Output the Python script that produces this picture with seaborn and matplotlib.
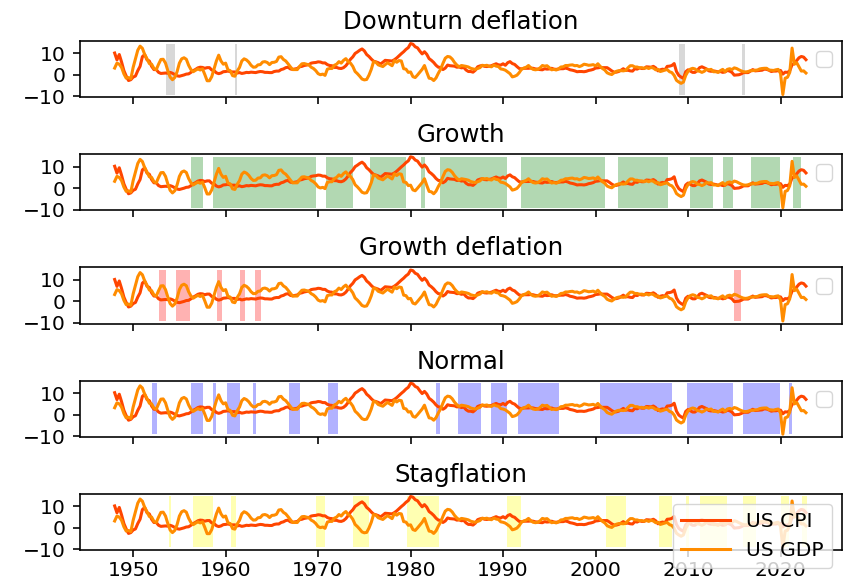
import numpy as np
import pandas as pd
import matplotlib
matplotlib.use("Agg")
import matplotlib.pyplot as plt
import seaborn as sns

# ---------------- data ----------------
start_year = 1948.0  # first quarter
cpi = [
    10.2, 7.0, 9.5, 6.0,   2.0, -0.5, -2.6, -2.2,   -1.0, -0.5, 2.0, 4.0,
    8.5, 9.5, 7.0, 6.5,    4.0, 2.5, 2.5, 1.2,      0.7, 0.8, 0.9, 0.8,
    1.2, 0.8, 0.2, -0.4,   -0.6, -0.3, 0.0, 0.4,    0.5, 1.2, 2.0, 2.6,
    3.3, 3.6, 3.5, 3.1,    3.4, 3.4, 2.3, 2.0,      1.0, 0.6, 0.9, 1.5,
    1.6, 1.8, 1.5, 1.4,    1.4, 0.9, 1.1, 0.7,      0.9, 1.2, 1.1, 1.3,
    1.2, 1.1, 1.4, 1.6,    1.5, 1.2, 1.2, 1.1,      1.1, 1.6, 1.8, 1.8,
    2.5, 2.8, 3.4, 3.6,    2.8, 2.6, 2.8, 3.0,      3.8, 4.0, 4.4, 4.6,
    4.8, 5.5, 5.7, 5.8,    6.1, 6.0, 5.6, 5.6,      4.8, 4.4, 4.3, 3.5,
    3.5, 3.1, 3.0, 3.4,    4.3, 5.7, 7.3, 8.4,      10.0, 10.7, 11.5, 12.1,
    11.2, 9.5, 8.6, 7.4,   6.4, 6.1, 5.7, 5.1,      5.9, 6.8, 6.7, 6.6,
    6.5, 7.1, 7.9, 8.9,    9.9, 10.8, 11.9, 12.7,   14.6, 14.3, 13.1, 12.6,
    11.1, 9.8, 10.8, 9.6,  7.6, 6.8, 5.8, 4.5,      3.6, 3.5, 2.5, 3.2,
    4.6, 4.3, 4.2, 4.1,    3.6, 3.7, 3.3, 3.5,      2.3, 1.6, 1.6, 1.3,
    2.2, 3.8, 4.2, 4.4,    4.0, 3.9, 4.1, 4.3,      4.8, 5.2, 4.7, 4.6,
    5.2, 4.5, 5.7, 6.2,    5.3, 4.9, 3.9, 3.0,      2.8, 3.1, 3.1, 3.1,
    3.2, 3.1, 2.8, 2.7,    2.5, 2.4, 2.9, 2.7,      2.8, 3.1, 2.7, 2.6,
    2.8, 2.9, 2.9, 3.2,    2.9, 2.4, 2.2, 1.9,      1.5, 1.6, 1.6, 1.5,
    1.7, 2.1, 2.3, 2.6,    3.2, 3.3, 3.5, 3.4,      3.4, 3.4, 2.7, 1.9,
    1.3, 1.3, 1.6, 2.2,    2.9, 2.1, 2.2, 1.9,      1.8, 2.9, 2.7, 3.3,
    3.0, 3.0, 3.8, 3.7,    3.6, 4.0, 3.3, 1.9,      2.4, 2.7, 2.4, 4.0,
    4.1, 4.4, 5.3, 1.6,    -0.2, -1.0, -1.6, 1.5,   2.4, 1.8, 1.2, 1.2,
    2.1, 3.4, 3.8, 3.3,    2.8, 1.9, 1.7, 1.9,      1.7, 1.4, 1.6, 1.2,
    1.4, 2.1, 1.8, 1.2,    -0.1, 0.0, 0.1, 0.5,     1.1, 1.1, 1.1, 1.8,
    2.5, 1.9, 2.0, 2.1,    2.2, 2.7, 2.6, 2.2,      1.6, 1.8, 1.8, 2.0,
    2.1, 0.4, 1.3, 1.2,    1.9, 4.8, 5.3, 6.7,      8.0, 8.6, 8.3, 7.1,
]
gdp = [
    3.2, 5.5, 5.0, 3.5,    0.5, -1.5, -1.2, -1.8,   3.5, 7.5, 11.5, 13.4,
    12.4, 9.5, 7.5, 5.3,   5.0, 3.0, 2.5, 5.0,      7.2, 7.3, 5.5, 2.0,
    -1.0, -2.2, -1.2, 1.5, 5.5, 7.5, 8.0, 7.3,      4.5, 2.5, 1.5, 2.2,
    2.8, 2.3, 2.8, 0.2,    -2.7, -2.7, -0.8, 2.8,   6.5, 9.2, 6.5, 5.0,
    5.5, 2.4, 2.0, -0.3,   -0.6, 1.8, 3.5, 6.5,     7.5, 7.0, 6.0, 4.5,
    3.6, 3.7, 4.7, 4.8,    6.0, 6.2, 5.8, 4.8,      5.8, 5.9, 6.3, 8.3,
    8.5, 7.2, 6.5, 5.2,    3.8, 2.5, 2.5, 2.5,      4.0, 5.2, 5.3, 5.0,
    4.7, 3.6, 3.0, 2.0,    0.6, 0.1, 0.4, -0.2,     2.7, 3.0, 3.0, 4.5,
    5.0, 6.2, 5.5, 6.8,    7.6, 6.2, 5.5, 4.0,      1.6, 0.6, -0.6, -1.9,
    -2.3, -2.1, -0.1, 2.6, 6.2, 5.9, 4.7, 4.3,      3.9, 4.8, 5.7, 5.0,
    4.3, 6.7, 5.9, 6.7,    6.5, 2.9, 2.7, 1.2,      1.4, -0.8, -1.2, 0.0,
    1.3, 2.6, 4.4, 1.3,    -1.5, -1.7, -2.6, -1.4,  0.8, 2.7, 5.4, 7.8,
    8.6, 8.4, 7.4, 5.8,    4.6, 3.8, 4.4, 4.2,      4.0, 3.7, 3.1, 2.8,
    2.6, 3.0, 3.4, 4.5,    4.3, 4.5, 4.0, 3.8,      4.6, 4.1, 3.9, 2.8,
    2.6, 2.2, 1.4, 0.6,    -0.9, -0.6, -0.1, 1.1,   2.7, 3.2, 3.6, 4.4,
    3.3, 2.6, 2.4, 2.6,    3.3, 4.4, 4.1, 4.3,      3.4, 2.4, 2.6, 2.3,
    2.8, 3.7, 3.8, 4.4,    4.4, 4.6, 4.7, 4.3,      4.4, 3.9, 4.3, 5.0,
    4.8, 4.5, 4.6, 4.8,    4.2, 5.2, 4.0, 3.0,      2.3, 1.0, 0.5, 0.2,
    1.0, 1.7, 2.0, 2.0,    1.9, 2.1, 3.3, 4.3,      4.3, 3.7, 3.7, 3.3,
    3.4, 3.1, 3.4, 3.0,    3.5, 3.2, 2.4, 2.6,      1.6, 1.9, 2.3, 2.5,
    1.5, 1.1, -0.2, -2.5,  -3.3, -3.9, -3.3, -0.2,  1.7, 2.7, 3.1, 2.8,
    1.9, 1.7, 1.2, 1.7,    2.6, 2.4, 2.6, 1.5,      1.5, 1.2, 2.0, 2.6,
    1.5, 2.6, 2.9, 2.5,    3.3, 3.0, 2.4, 1.9,      1.5, 1.4, 1.6, 2.0,
    2.0, 2.2, 2.3, 2.8,    3.0, 3.1, 3.1, 2.3,      2.2, 2.1, 2.4, 2.6,
    0.7, -9.1, -1.5, -1.1, 1.2, 12.5, 5.0, 5.7,     3.7, 1.8, 1.9, 0.9,
]
dates = start_year + 0.25 * np.arange(len(cpi))

series_names = ["US CPI", "US GDP"]
series_colors = ["orangered", "darkorange"]

regime_names = ["Downturn deflation", "Growth", "Growth deflation", "Normal", "Stagflation"]
regime_colors = ["gray", "green", "red", "blue", "yellow"]

downturn_deflation = [(1953.6, 1954.5), (1961.0, 1961.25), (2009.0, 2009.7),
                      (2015.85, 2016.15), (2020.22, 2020.3)]
growth = [(1956.3, 1957.55), (1958.6, 1969.75), (1970.85, 1973.8), (1975.65, 1979.55),
          (1981.1, 1981.6), (1983.15, 1990.4), (1991.95, 2001.0), (2002.4, 2007.8),
          (2010.25, 2012.7), (2013.8, 2014.85), (2016.8, 2019.9), (2021.35, 2022.25)]
growth_deflation = [(1952.75, 1953.55), (1954.6, 1956.2), (1959.1, 1959.6),
                    (1961.6, 1962.1), (1963.2, 1963.8), (2014.95, 2015.7)]
normal = [(1952.05, 1952.55), (1956.3, 1957.55), (1958.6, 1958.95), (1960.15, 1961.6),
          (1963.0, 1963.25), (1966.9, 1968.0), (1971.05, 1972.1), (1982.8, 1983.2),
          (1985.15, 1987.6), (1988.65, 1990.4), (1991.6, 1996.0), (2000.5, 2008.3),
          (2009.9, 2014.85), (2015.95, 2019.9), (2020.9, 2021.25)]
stagflation = [(1953.9, 1954.1), (1956.45, 1958.6), (1960.6, 1961.1), (1969.8, 1970.75),
               (1973.8, 1975.5), (1979.6, 1983.05), (1990.45, 1991.9), (2001.1, 2003.3),
               (2006.9, 2008.25), (2009.8, 2010.15), (2011.25, 2014.25), (2015.9, 2017.35),
               (2020.0, 2020.9), (2022.35, 2022.9)]
regime_spans = [downturn_deflation, growth, growth_deflation, normal, stagflation]

# ---------------- style (default matplotlib look, scaled) ----------------
s = 1.46
plt.rcParams.update({
    "font.size": 10 * s,
    "axes.titlesize": 12 * s,
    "axes.titlepad": 6 * s,
    "axes.linewidth": 0.8 * s,
    "xtick.major.size": 3.5 * s,
    "ytick.major.size": 3.5 * s,
    "xtick.major.width": 0.8 * s,
    "ytick.major.width": 0.8 * s,
    "xtick.major.pad": 2.5,
    "ytick.major.pad": 3.5 * s,
    "lines.linewidth": 1.5 * s,
    "legend.fontsize": 10 * s,
})

# ---------------- figure ----------------
df = pd.DataFrame({
    "date": np.concatenate([dates, dates]),
    "value": np.concatenate([cpi, gdp]),
    "series": [series_names[0]] * len(cpi) + [series_names[1]] * len(gdp),
})
lo = min(min(cpi), min(gdp))
hi = max(max(cpi), max(gdp))

fig, axes = plt.subplots(5, 1, figsize=(8.44, 5.81), dpi=100, sharex=True)
fig.subplots_adjust(left=0.0948, right=0.9976, top=0.9294, bottom=0.0534, hspace=1.02)

palette = dict(zip(series_names, series_colors))
for i, ax in enumerate(axes):
    for (a, b) in regime_spans[i]:
        ax.fill_between([a, b], lo, hi, color=regime_colors[i], alpha=0.3, linewidth=0)
    last = i == len(axes) - 1
    sns.lineplot(data=df, x="date", y="value", hue="series", palette=palette,
                 linewidth=1.5 * s, ax=ax, legend=last)
    ax.set_title(regime_names[i])
    ax.set_xlabel("")
    ax.set_ylabel("")
    ax.set_yticks([-10, 0, 10])
    ax.set_xticks([1950, 1960, 1970, 1980, 1990, 2000, 2010, 2020])
    if last:
        leg = ax.legend(loc="upper right", handlelength=2.4)
        for h in leg.get_lines():
            h.set_linewidth(1.5 * s)
    else:
        ax.legend(handles=[], labels=[], loc="upper right")

fig.savefig("out.png", dpi=100)
